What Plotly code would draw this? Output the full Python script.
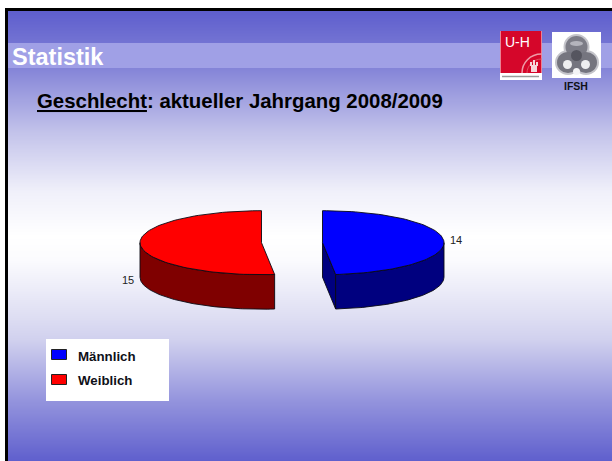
import numpy as np
import plotly.graph_objects as go

# --- data ---
categories = ["Männlich", "Weiblich"]
values = [14, 15]
slice_colors = ["#0000ff", "#ff0000"]
wall_colors = ["#00007f", "#7f0000"]

# --- slide text ---
band_title = "Statistik"
heading = "<u>Geschlecht</u>: aktueller Jahrgang 2008/2009"
logo_caption = "IFSH"

# --- background gradient stops (pixel row, colour) ---
grad_rows = [11, 68, 130, 190, 235, 260, 320, 340, 400, 461]
grad_cols = ["#5f5fcd", "#8585d8", "#c2c2ea", "#f0f0fa", "#ffffff", "#fbfbfe",
             "#dcdcf2", "#d0d0ee", "#9494dd", "#5f5fcd"]

# --- pie geometry ---
RX, RY, DEPTH = 121.5, 32, 34.5
CY = 242.7
CX_BLUE, CX_RED = 322.5, 261.5

W, H = 612, 461
fig = go.Figure()

# background gradient
rows = np.arange(11, 462, 1.0)
stops = [(r - 11) / 450 for r in grad_rows]
fig.add_trace(go.Heatmap(
    x=[8, W], y=rows, z=[[r, r] for r in rows], zmin=11, zmax=461,
    colorscale=[[s, c] for s, c in zip(stops, grad_cols)],
    showscale=False, hoverinfo="skip", zsmooth="best"))


def arc(cx, cy, a0, a1, n=90):
    """angles in degrees, clockwise from 12 o'clock"""
    t = np.radians(np.linspace(a0, a1, n))
    return cx + RX * np.sin(t), cy - RY * np.cos(t)


total = sum(values)
split = values[0] / total * 360
LINE = dict(color="#0a0a14", width=0.9)


def poly(xs, ys, color, name):
    fig.add_trace(go.Scatter(x=list(xs) + [xs[0]], y=list(ys) + [ys[0]], mode="lines", fill="toself",
                             fillcolor=color, line=LINE, hoverinfo="skip", showlegend=False, name=name))


def wall(cx, a0, a1, color, name):
    x, y = arc(cx, CY, a0, a1)
    xs = np.concatenate([x, x[::-1]])
    ys = np.concatenate([y, y[::-1] + DEPTH])
    poly(xs, ys, color, name)


# blue slice: 0 .. split
xe, ye = arc(CX_BLUE, CY, split, split, 1)
poly([CX_BLUE, xe[0], xe[0], CX_BLUE], [CY, ye[0], ye[0] + DEPTH, CY + DEPTH], wall_colors[0], categories[0])
wall(CX_BLUE, 90, split, wall_colors[0], categories[0])
x, y = arc(CX_BLUE, CY, 0, split)
poly(np.concatenate([[CX_BLUE], x]), np.concatenate([[CY], y]), slice_colors[0], categories[0])

# red slice: split .. 360
wall(CX_RED, split, 270, wall_colors[1], categories[1])
x, y = arc(CX_RED, CY, split, 360)
poly(np.concatenate([[CX_RED], x]), np.concatenate([[CY], y]), slice_colors[1], categories[1])


def box(x0, x1, y0, y1, color, kind="rect", **kw):
    return dict(type=kind, x0=x0, x1=x1, y0=y0, y1=y1, fillcolor=color, line_width=0, layer="above", **kw)


shapes = [
    box(0, 5, 0, H, "#ffffff"),
    box(0, W, 0, 8, "#ffffff"),
    box(5, 8, 8, H, "#000000"),
    box(5, W, 8, 11, "#000000"),
    # band
    box(8, W, 43, 68, "#a0a0e6"),
    # legend box
    box(46, 169, 339, 401, "#ffffff"),
    dict(type="rect", x0=51.5, x1=66.5, y0=349.5, y1=359.5, fillcolor=slice_colors[0],
         line=dict(color="#222222", width=1), layer="above"),
    dict(type="rect", x0=51.5, x1=66.5, y0=374.5, y1=384.5, fillcolor=slice_colors[1],
         line=dict(color="#222222", width=1), layer="above"),
    # UH logo
    box(500, 542, 31, 80, "#ffffff"),
    box(500.5, 541.5, 31, 73, "#d5062a"),
    dict(type="path", path="M 522 73 C 522 63 530 54 541.5 54", line=dict(color="#ee9aa6", width=1.5), layer="above"),
    dict(type="path", path="M 527 73 C 527 66 533 59 541.5 59", line=dict(color="#e0505f", width=1), layer="above"),
    box(531, 537, 65, 72, "#f6d6da"),
    box(533, 535, 60, 65, "#f6d6da"),
    box(530, 532, 62, 66, "#f6d6da"),
    box(536, 538, 62, 66, "#f6d6da"),
    dict(type="line", x0=502, x1=539, y0=76.5, y1=76.5, line=dict(color="#9a9a9a", width=1.5), layer="above"),
    # IFSH logo
    box(552, 601, 32, 78, "#ffffff"),
    box(563.5, 589.5, 34, 60, "#c4c4ca", "circle"),
    box(555, 581, 50, 75, "#c4c4ca", "circle"),
    box(573, 599, 50, 75, "#c4c4ca", "circle"),
    box(565.5, 587.5, 36, 58, "#7c7c86", "circle"),
    box(557, 579, 52, 73, "#75757f", "circle"),
    box(575, 597, 52, 73, "#75757f", "circle"),
    box(563, 572, 60, 69, "#eeeef0", "circle"),
    box(581, 590, 60, 69, "#eeeef0", "circle"),
    box(573, 580, 68, 75, "#f4f4f6", "circle"),
    box(570, 583, 41, 46, "#b4b4bc", "circle"),
    box(571, 582, 50, 61, "#55555f", "circle"),
]

FONT = "Liberation Sans, Arial, sans-serif"


def note(text, x, y, size, color="#000000", anchor="left"):
    return dict(text=text, x=x, y=y, xref="x", yref="y", showarrow=False, xanchor=anchor, yanchor="middle",
                font=dict(family=FONT, size=size, color=color), align="left")


annotations = [
    note(f"<b>{band_title}</b>", 10, 57, 23.5, "#ffffff"),
    note(f"<b>{heading}</b>", 35, 100.5, 20.4, "#000000"),
    note(f"<b>{logo_caption}</b>", 576, 86, 10.5, "#101018", "center"),
    note("U-H", 517.5, 42, 14, "#ffffff", "center"),
    note(str(values[0]), 456, 240, 11, "#222222", "center"),
    note(str(values[1]), 128, 280, 11, "#222222", "center"),
    note(f"<b>{categories[0]}</b>", 76, 356.5, 13.3, "#101018"),
    note(f"<b>{categories[1]}</b>", 76, 380, 13.3, "#101018"),
]

fig.update_layout(
    width=W, height=H, margin=dict(l=0, r=0, t=0, b=0), paper_bgcolor="#ffffff", plot_bgcolor="#ffffff",
    xaxis=dict(range=[0, W], visible=False, fixedrange=True),
    yaxis=dict(range=[H, 0], visible=False, fixedrange=True),
    showlegend=False, shapes=shapes, annotations=annotations,
)
fig.write_html("out.html", config=dict(displayModeBar=False),
               post_script="document.body.style.margin='0';")
